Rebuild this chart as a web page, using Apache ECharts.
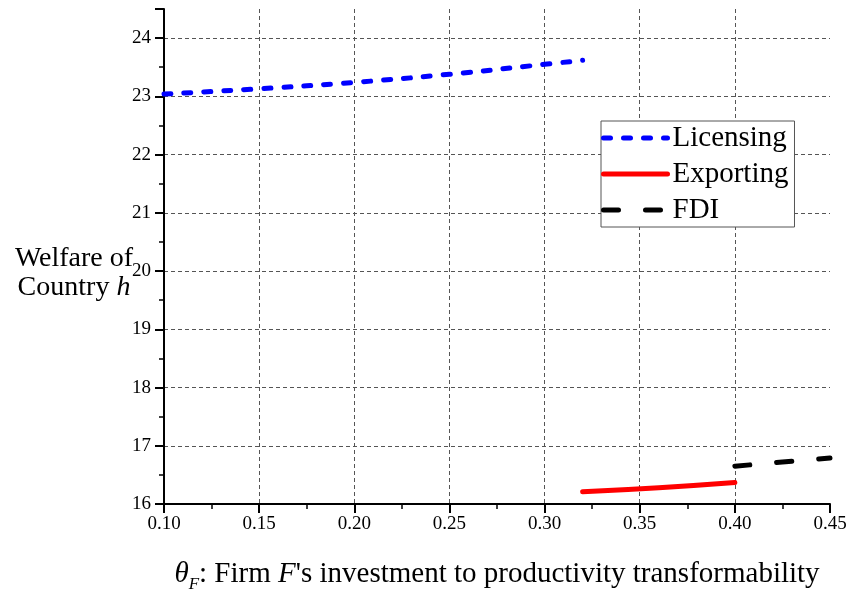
<!DOCTYPE html>
<html>
<head>
<meta charset="utf-8">
<script src="https://cdn.jsdelivr.net/npm/echarts@6/dist/echarts.min.js"></script>
<style>
  html, body { margin: 0; padding: 0; background: #fff; }
  #chart { width: 848px; height: 595px; }
</style>
</head>
<body>
<div id="chart"></div>
<script>
// theta_F values and welfare
var licX = [0.10, 0.15, 0.20, 0.25, 0.30, 0.32];
var licY = [23.04, 23.13, 23.24, 23.38, 23.55, 23.62];
var expX = [0.32, 0.36, 0.40];
var expY = [16.21, 16.28, 16.37];
var fdiX = [0.40, 0.425, 0.45];
var fdiY = [16.65, 16.72, 16.79];

function pairs(xs, ys) {
  var out = [];
  for (var i = 0; i < xs.length; i++) out.push([xs[i], ys[i]]);
  return out;
}

var font = 'Liberation Serif';
var gridLine = { show: true, showMinLine: false, showMaxLine: false,
  lineStyle: { color: '#555', type: [4, 3], width: 1 } };

var chart = echarts.init(document.getElementById('chart'));
chart.setOption({
  animation: false,
  grid: { left: 164, right: 18, top: 9, bottom: 91, outerBoundsMode: 'none' },
  legend: {
    orient: 'vertical',
    left: 601, top: 121,
    padding: [2, 6, 2, 0],
    itemWidth: 64, itemHeight: 20, itemGap: 6,
    backgroundColor: '#fff',
    borderColor: '#555', borderWidth: 1,
    itemStyle: { opacity: 0 },
    lineStyle: { width: 5, cap: 'round' },
    textStyle: { fontFamily: font, fontSize: 29, color: '#000', lineHeight: 30 },
    data: ['Licensing', 'Exporting', 'FDI']
  },
  xAxis: {
    type: 'value',
    min: 0.10, max: 0.45, interval: 0.05,
    axisLine: { lineStyle: { color: '#000', width: 2 } },
    axisTick: { length: 9, lineStyle: { color: '#000', width: 2 } },
    minorTick: { show: true, splitNumber: 2, length: 5, lineStyle: { color: '#000', width: 1.5 } },
    axisLabel: { fontFamily: font, fontSize: 19, color: '#000', margin: 11,
      formatter: function (v) { return v.toFixed(2); } },
    splitLine: gridLine,
    name: '{t|θ}{s|F}: Firm {i|F}\'s investment to productivity transformability',
    nameLocation: 'middle', nameGap: 52, nameMoveOverlap: false,
    nameTextStyle: {
      fontFamily: font, fontSize: 29, color: '#000',
      rich: {
        t: { fontFamily: font, fontSize: 29, fontStyle: 'italic', color: '#000' },
        s: { fontFamily: font, fontSize: 17, fontStyle: 'italic', color: '#000', padding: [20, 0, 0, 0] },
        i: { fontFamily: font, fontSize: 29, fontStyle: 'italic', color: '#000' }
      }
    }
  },
  yAxis: {
    type: 'value',
    min: 16, max: 24.5, interval: 1,
    axisLine: { lineStyle: { color: '#000', width: 2 } },
    axisTick: { length: 9, lineStyle: { color: '#000', width: 2 } },
    minorTick: { show: true, splitNumber: 2, length: 5, lineStyle: { color: '#000', width: 1.5 } },
    axisLabel: { fontFamily: font, fontSize: 19, color: '#000', margin: 13, showMaxLabel: false },
    splitLine: gridLine,
    name: 'Welfare of\nCountry {i|h}',
    nameLocation: 'middle', nameRotate: 0, nameGap: 90, nameMoveOverlap: false,
    nameTextStyle: {
      fontFamily: font, fontSize: 28, color: '#000', align: 'center', lineHeight: 29,
      padding: [34, 0, 0, 0],
      rich: { i: { fontFamily: font, fontSize: 28, fontStyle: 'italic', color: '#000', lineHeight: 29 } }
    }
  },
  series: [
    { name: 'Licensing', type: 'line', smooth: true, showSymbol: false, symbol: 'none',
      data: pairs(licX, licY), color: '#0000ff',
      lineStyle: { color: '#0000ff', width: 5, type: [7, 13], cap: 'round' } },
    { name: 'Exporting', type: 'line', smooth: true, showSymbol: false, symbol: 'none',
      data: pairs(expX, expY), color: '#ff0000',
      lineStyle: { color: '#ff0000', width: 5, cap: 'round' } },
    { name: 'FDI', type: 'line', smooth: true, showSymbol: false, symbol: 'none',
      data: pairs(fdiX, fdiY), color: '#000',
      lineStyle: { color: '#000', width: 5, type: [15, 27], cap: 'round' } }
  ]
});
</script>
</body>
</html>
